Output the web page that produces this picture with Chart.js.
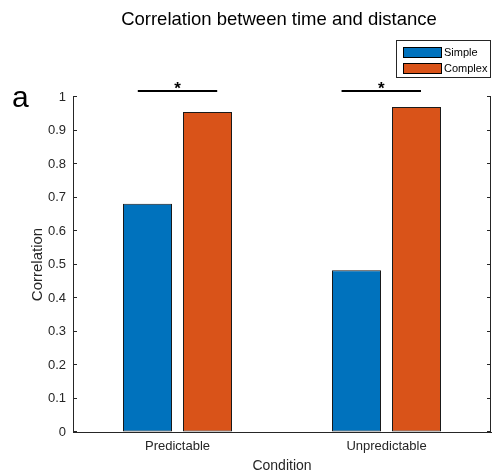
<!DOCTYPE html>
<html>
<head>
<meta charset="utf-8">
<script src="https://cdn.jsdelivr.net/npm/chart.js@4"></script>
<style>
html,body{margin:0;padding:0;background:#fff;}
canvas{display:block;}
</style>
</head>
<body>
<canvas id="c" width="494" height="474"></canvas>
<script>
// ---- data ----
const categories = ['Predictable', 'Unpredictable'];
const seriesNames = ['Simple', 'Complex'];
const simpleValues = [0.681, 0.483];
const complexValues = [0.955, 0.970];
const yTickValues = [0, 0.1, 0.2, 0.3, 0.4, 0.5, 0.6, 0.7, 0.8, 0.9, 1];
// significance markers: category index, span in category units, level in data units
const sigCategories = [0, 1];
const sigFrom = [-0.19, -0.215];
const sigTo = [0.19, 0.165];
const sigLevel = [1.018, 1.018];
const sigLabels = ['*', '*'];
const chartTitle = 'Correlation between time and distance';
const panelLabel = 'a';
const xTitle = 'Condition';
const yTitle = 'Correlation';

const FONT = '"Liberation Sans", Arial, Helvetica, sans-serif';
const AXIS = '#262626';
const colors = ['#0072BD', '#D95319'];

const overlay = {
  id: 'overlay',
  afterDraw(chart) {
    const ctx = chart.ctx;
    const area = chart.chartArea;
    const x = chart.scales.x, y = chart.scales.y;
    ctx.save();
    // right axis line
    ctx.strokeStyle = AXIS;
    ctx.lineWidth = 1;
    ctx.beginPath();
    ctx.moveTo(area.right - 0.5, area.top);
    ctx.lineTo(area.right - 0.5, area.bottom);
    ctx.stroke();
    // inward ticks on both y axes
    y.ticks.forEach(t => {
      const py = Math.round(y.getPixelForValue(t.value)) - 0.5;
      ctx.beginPath();
      ctx.moveTo(area.left, py); ctx.lineTo(area.left + 4, py);
      ctx.moveTo(area.right, py); ctx.lineTo(area.right - 4, py);
      ctx.stroke();
    });
    // title
    ctx.fillStyle = '#000';
    ctx.font = '18.5px ' + FONT;
    ctx.textAlign = 'center';
    ctx.textBaseline = 'middle';
    ctx.fillText(chartTitle, 279, 20);
    // panel label
    ctx.font = '30px ' + FONT;
    ctx.textAlign = 'left';
    ctx.textBaseline = 'alphabetic';
    ctx.fillText(panelLabel, 12, 107);
    // significance lines
    sigCategories.forEach((c, i) => {
      const x1 = x.getPixelForValue(c + sigFrom[i]);
      const x2 = x.getPixelForValue(c + sigTo[i]);
      const py = y.getPixelForValue(sigLevel[i]);
      ctx.strokeStyle = '#000';
      ctx.lineWidth = 2;
      ctx.beginPath();
      ctx.moveTo(x1, py); ctx.lineTo(x2, py);
      ctx.stroke();
      ctx.font = 'bold 17px ' + FONT;
      ctx.textAlign = 'center';
      ctx.textBaseline = 'alphabetic';
      ctx.fillText(sigLabels[i], (x1 + x2) / 2, py + 3);
    });
    // legend
    const lx = 396.5, ly = 40.5, lw = 94, lh = 37;
    ctx.fillStyle = '#fff';
    ctx.fillRect(lx, ly, lw, lh);
    ctx.strokeStyle = AXIS;
    ctx.lineWidth = 1;
    ctx.strokeRect(lx, ly, lw, lh);
    chart.data.datasets.forEach((ds, i) => {
      const sy = 47.5 + i * 16;
      ctx.fillStyle = ds.backgroundColor;
      ctx.fillRect(403.5, sy, 38, 10);
      ctx.strokeStyle = '#000';
      ctx.strokeRect(403.5, sy, 38, 10);
      ctx.fillStyle = '#000';
      ctx.font = '11px ' + FONT;
      ctx.textAlign = 'left';
      ctx.textBaseline = 'middle';
      ctx.fillText(ds.label, 444, sy + 5.5);
    });
    ctx.restore();
  }
};

new Chart(document.getElementById('c'), {
  type: 'bar',
  data: {
    labels: categories,
    datasets: [
      { label: seriesNames[0], data: simpleValues, backgroundColor: colors[0], borderColor: '#1a1a1a', borderWidth: 1, borderSkipped: false },
      { label: seriesNames[1], data: complexValues, backgroundColor: colors[1], borderColor: '#1a1a1a', borderWidth: 1, borderSkipped: false }
    ]
  },
  options: {
    responsive: false,
    devicePixelRatio: 1,
    animation: false,
    layout: { padding: { top: 97, right: 3, left: 0, bottom: -1 } },
    datasets: { bar: { categoryPercentage: 0.574163, barPercentage: 0.816667 } },
    plugins: { legend: { display: false }, title: { display: false }, tooltip: { enabled: false } },
    scales: {
      x: {
        grid: { display: true, drawOnChartArea: false, drawTicks: false },
        border: { display: true, color: AXIS, width: 1 },
        ticks: { color: AXIS, font: { family: FONT, size: 13 }, padding: 7, maxRotation: 0 },
        title: { display: true, text: xTitle, color: AXIS, font: { family: FONT, size: 14 }, padding: { top: 0, bottom: 0 } },
        afterFit(s) { s.height = 43; }
      },
      y: {
        min: 0, max: 1,
        afterBuildTicks(s) { s.ticks = yTickValues.map(v => ({ value: v })); },
        grid: { display: true, drawOnChartArea: false, drawTicks: false },
        border: { display: true, color: AXIS, width: 1 },
        ticks: { color: AXIS, font: { family: FONT, size: 13 }, padding: 7, callback: v => String(+v.toFixed(1)) },
        title: { display: true, text: yTitle, color: AXIS, font: { family: FONT, size: 15 }, padding: { top: 29, bottom: 0 } },
        afterFit(s) { s.width = 73; }
      }
    }
  },
  plugins: [overlay]
});
</script>
</body>
</html>
